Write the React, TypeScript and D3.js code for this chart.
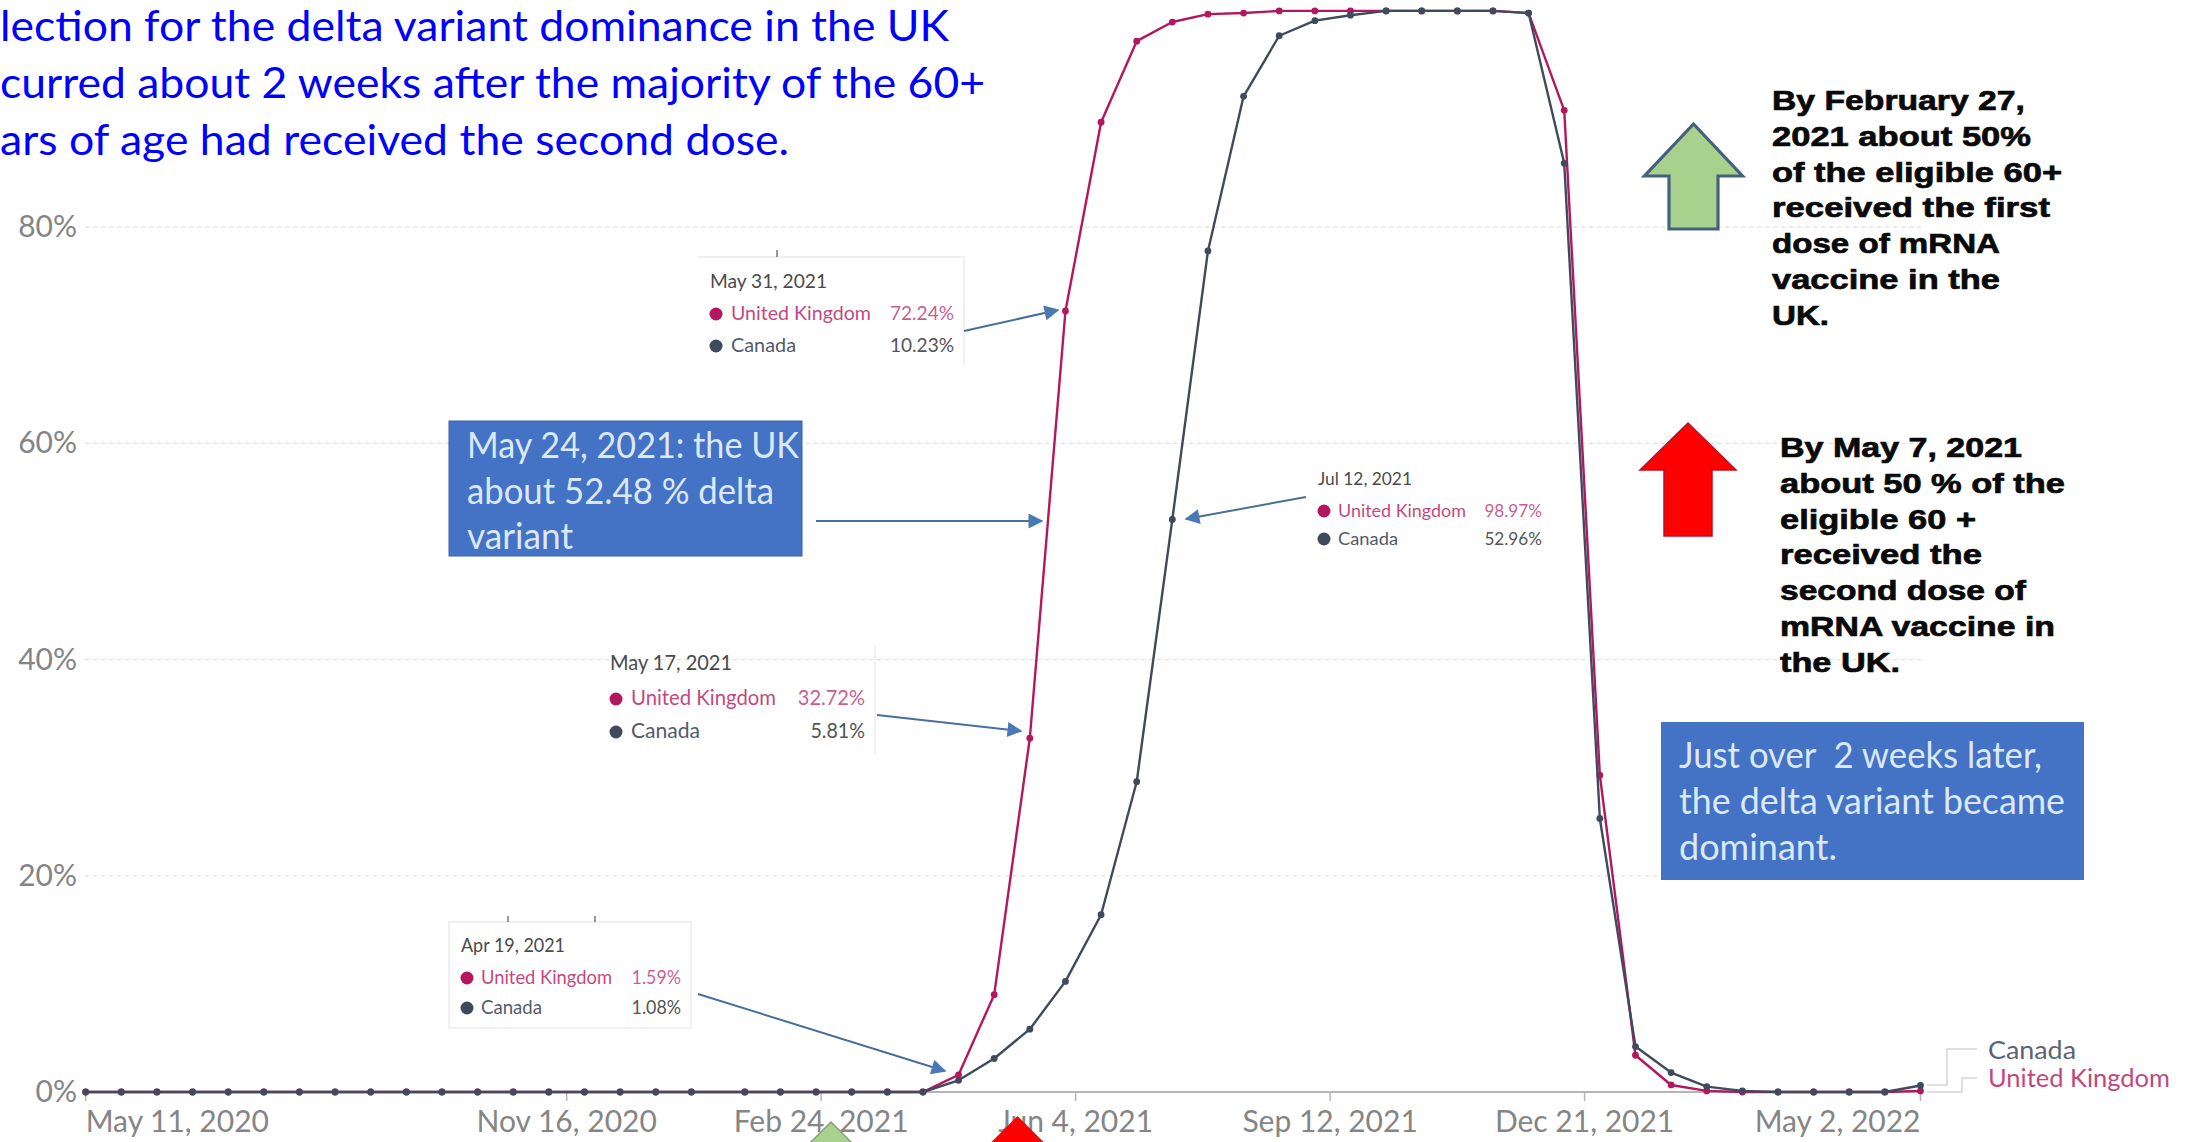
import React from "react";
import * as d3 from "d3";

// Share of sequenced cases that were the delta variant, fortnightly readings
const sampleDates = [
  "2020-05-11", "2020-05-25", "2020-06-08", "2020-06-22", "2020-07-06", "2020-07-20", "2020-08-03", "2020-08-17",
  "2020-08-31", "2020-09-14", "2020-09-28", "2020-10-12", "2020-10-26", "2020-11-09", "2020-11-23", "2020-12-07",
  "2020-12-21", "2021-01-04", "2021-01-25", "2021-02-08", "2021-02-22", "2021-03-08", "2021-03-22", "2021-04-05",
  "2021-04-19", "2021-05-03", "2021-05-17", "2021-05-31", "2021-06-14", "2021-06-28", "2021-07-12", "2021-07-26",
  "2021-08-09", "2021-08-23", "2021-09-06", "2021-09-20", "2021-10-04", "2021-10-18", "2021-11-01", "2021-11-15",
  "2021-11-29", "2021-12-13", "2021-12-27", "2022-01-10", "2022-01-24", "2022-02-07", "2022-02-21", "2022-03-07",
  "2022-03-21", "2022-04-04", "2022-04-18", "2022-05-02",
];
const ukShare = [
  0, 0, 0, 0, 0, 0, 0, 0, 0, 0, 0, 0, 0, 0, 0, 0, 0, 0, 0, 0, 0, 0, 0, 0,
  1.59, 9.0, 32.72, 72.24, 89.7, 97.2, 98.97, 99.7, 99.8, 100, 100, 100, 100, 100, 100, 100, 99.8, 90.8, 29.3,
  3.4, 0.65, 0.1, 0, 0, 0, 0, 0, 0.1,
];
const canadaShare = [
  0, 0, 0, 0, 0, 0, 0, 0, 0, 0, 0, 0, 0, 0, 0, 0, 0, 0, 0, 0, 0, 0, 0, 0,
  1.08, 3.1, 5.81, 10.23, 16.4, 28.7, 52.96, 77.8, 92.1, 97.7, 99.1, 99.6, 100, 100, 100, 100, 99.8, 85.9, 25.3,
  4.2, 1.8, 0.5, 0.1, 0, 0, 0, 0, 0.6,
];
const xTickDates = ["2020-05-11", "2020-11-16", "2021-02-24", "2021-06-04", "2021-09-12", "2021-12-21", "2022-05-02"];
const yTicks = [0, 20, 40, 60, 80];

const UK = "#b5175f";
const CANADA = "#3f4a5c";
const GREY = "#858585";
const ARROW = "#4a6d9c";
const SANS = "Lato, sans-serif";

const parseDay = d3.utcParse("%Y-%m-%d");
const formatDay = d3.utcFormat("%b %-d, %Y");
const x = d3.scaleUtc().domain([parseDay("2020-05-11"), parseDay("2022-05-02")]).range([85.7, 1920.5]);
const y = d3.scaleLinear().domain([0, 100]).range([1092, 10.9]);
const line = d3.line<number>().x((_, i) => x(parseDay(sampleDates[i]))).y((v) => y(v));

const headline = [
  { text: "lection for the delta variant dominance in the UK", base: 41, width: 949 },
  { text: "curred about 2 weeks after the majority of the 60+", base: 98, width: 985 },
  { text: "ars of age had received the second dose.", base: 155, width: 789 },
];

const firstDoseNote = [
  { text: "By February 27,", width: 253 },
  { text: "2021 about 50%", width: 259 },
  { text: "of the eligible 60+", width: 290 },
  { text: "received the first", width: 278 },
  { text: "dose of mRNA", width: 228 },
  { text: "vaccine in the", width: 228 },
  { text: "UK.", width: 57 },
];
const secondDoseNote = [
  { text: "By May 7, 2021", width: 242 },
  { text: "about 50 % of the", width: 285 },
  { text: "eligible 60 +", width: 196 },
  { text: "received the", width: 202 },
  { text: "second dose of", width: 246 },
  { text: "mRNA vaccine in", width: 275 },
  { text: "the UK.", width: 120 },
];

const tooltips = [
  { date: "Apr 19, 2021", uk: "1.59%", ca: "1.08%", left: 461, right: 681, top: 952, nameWidth: 131, caWidth: 61, font: 19, gap: 30, dateW: 104,
    edges: "M449,922H691V1028H449Z" },
  { date: "May 17, 2021", uk: "32.72%", ca: "5.81%", left: 610, right: 865, top: 670, nameWidth: 145, caWidth: 69, font: 21, gap: 33, dateW: 122,
    edges: "M875,645V754" },
  { date: "May 31, 2021", uk: "72.24%", ca: "10.23%", left: 710, right: 954, top: 288, nameWidth: 140, caWidth: 65, font: 20, gap: 32, dateW: 117,
    edges: "M698,257H964V365" },
  { date: "Jul 12, 2021", uk: "98.97%", ca: "52.96%", left: 1318, right: 1542, top: 485, nameWidth: 128, caWidth: 60, font: 18, gap: 28, dateW: 94,
    edges: "" },
];

const pointers = [
  [964, 331, 1058, 310],
  [816, 521, 1042, 521],
  [877, 715, 1021, 731],
  [1306, 497, 1186, 519],
  [698, 994, 945, 1071],
];

// Block arrow outline: tip on top, wings, then shaft down to the base
function blockArrow(cx: number, tip: number, wing: number, wingY: number, shaft: number, base: number) {
  return `M${cx},${tip}L${cx + wing},${wingY}L${cx + shaft},${wingY}L${cx + shaft},${base}L${cx - shaft},${base}L${cx - shaft},${wingY}L${cx - wing},${wingY}Z`;
}

// Percentages are set narrow: width follows the number of characters
function percentWidth(label: string, font: number) {
  return font * (label.length > 5 ? 3.2 : 2.6);
}

function Tooltip({ t }: { t: (typeof tooltips)[number] }) {
  const nameX = t.left + (t.font > 19 ? 21 : 20);
  const dotX = t.left + 6;
  const ukBase = t.top + 31 + (t.font > 20 ? 4 : 1);
  const caBase = ukBase + t.gap;
  return (
    <g fontFamily={SANS} fontSize={t.font}>
      <text x={t.left} y={t.top} fill="#4a4a4a" textLength={t.dateW} lengthAdjust="spacingAndGlyphs">{t.date}</text>
      <circle cx={dotX} cy={ukBase - 6} r={6.5} fill={UK} />
      <circle cx={dotX} cy={caBase - 6} r={6.5} fill={CANADA} />
      <text x={nameX} y={ukBase} fill={UK} textLength={t.nameWidth} lengthAdjust="spacingAndGlyphs" opacity={0.8}>United Kingdom</text>
      <text x={nameX} y={caBase} fill={CANADA} textLength={t.caWidth} lengthAdjust="spacingAndGlyphs" opacity={0.9}>Canada</text>
      <text x={t.right - percentWidth(t.uk, t.font)} y={ukBase} fill={UK} textLength={percentWidth(t.uk, t.font)} lengthAdjust="spacingAndGlyphs" opacity={0.7}>{t.uk}</text>
      <text x={t.right - percentWidth(t.ca, t.font)} y={caBase} fill="#555" textLength={percentWidth(t.ca, t.font)} lengthAdjust="spacingAndGlyphs">{t.ca}</text>
    </g>
  );
}

export default function App() {
  const gridLeft = 85;
  const gridRight = 1922;
  return (
    <svg width={2190} height={1142} style={{ position: "absolute", left: 0, top: 0, background: "#fff" }}>
      <defs>
        <marker id="head" viewBox="0 0 10 10" refX="9" refY="5" markerWidth="17" markerHeight="15" markerUnits="userSpaceOnUse" orient="auto">
          <path d="M0,0L10,5L0,10Z" fill="#4a7ab5" />
        </marker>
      </defs>

      {/* horizontal grid and value labels */}
      {yTicks.map((t) => (
        <g key={t}>
          {t > 0 && <line x1={gridLeft} x2={gridRight} y1={y(t)} y2={y(t)} stroke="#e0e0e0" strokeWidth={1.2} strokeDasharray="4 4" />}
          <text x={77} y={y(t) + 10} textAnchor="end" fontFamily={SANS} fontSize={30} fill={GREY}>{t}%</text>
        </g>
      ))}

      {/* time axis */}
      <line x1={gridLeft} x2={gridRight} y1={y(0)} y2={y(0)} stroke="#b5b5b5" strokeWidth={2} />
      {xTickDates.map((d, i) => {
        const px = x(parseDay(d));
        const anchor = i === 0 ? "start" : i === xTickDates.length - 1 ? "end" : "middle";
        return (
          <g key={d}>
            <line x1={px} x2={px} y1={y(0)} y2={y(0) + 9} stroke="#b5b5b5" strokeWidth={1.5} />
            <text x={px} y={1132} textAnchor={anchor} fontFamily={SANS} fontSize={30} fill={GREY}>{formatDay(parseDay(d))}</text>
          </g>
        );
      })}

      {/* country series */}
      {[{ values: ukShare, color: UK }, { values: canadaShare, color: CANADA }].map((s) => (
        <g key={s.color}>
          <path d={line(s.values) as string} fill="none" stroke={s.color} strokeWidth={2.4} strokeLinejoin="round" />
          {s.values.map((v, i) => (
            <circle key={i} cx={x(parseDay(sampleDates[i]))} cy={y(v)} r={3.4} fill={s.color} />
          ))}
        </g>
      ))}

      {/* end-of-line labels */}
      <path d="M1927,1085H1947V1049H1977" fill="none" stroke="#d5d5d5" strokeWidth={1.5} />
      <path d="M1927,1092H1962V1078H1977" fill="none" stroke="#d5d5d5" strokeWidth={1.5} />
      <text x={1988} y={1059} fontFamily={SANS} fontSize={25} fill="#5b6472" textLength={88} lengthAdjust="spacingAndGlyphs">Canada</text>
      <text x={1988} y={1087} fontFamily={SANS} fontSize={25} fill={UK} textLength={182} lengthAdjust="spacingAndGlyphs" opacity={0.8}>United Kingdom</text>

      {/* hover cards */}
      {tooltips.map((t) => (
        <g key={t.date}>
          {t.edges && <path d={t.edges} fill="none" stroke="#ececec" strokeWidth={1.5} />}
          <Tooltip t={t} />
        </g>
      ))}
      <path d="M777,250V257M508,916V922M595,916V922" stroke="#777" strokeWidth={1.5} />

      {/* pointers from the cards to the curve */}
      {pointers.map((p, i) => (
        <line key={i} x1={p[0]} y1={p[1]} x2={p[2]} y2={p[3]} stroke={ARROW} strokeWidth={2} markerEnd="url(#head)" />
      ))}

      {/* headline, cut off at the left edge */}
      {headline.map((l) => (
        <text key={l.base} x={0} y={l.base} fontFamily={SANS} fontSize={43} fill="#0000ff" textLength={l.width} lengthAdjust="spacingAndGlyphs">{l.text}</text>
      ))}

      {/* blue call-out boxes */}
      <rect x={449} y={421} width={353} height={135} fill="#4472c4" stroke="#3a62a8" strokeWidth={1} />
      <g fontFamily={SANS} fontSize={36} fill="#dbe8f5">
        <text x={467} y={458} textLength={332} lengthAdjust="spacingAndGlyphs">May 24, 2021: the UK</text>
        <text x={467} y={504} textLength={307} lengthAdjust="spacingAndGlyphs">about 52.48 % delta</text>
        <text x={467} y={549} textLength={106} lengthAdjust="spacingAndGlyphs">variant</text>
      </g>
      <rect x={1661} y={722} width={423} height={158} fill="#4472c4" />
      <g fontFamily={SANS} fontSize={36} fill="#dbe8f5">
        <text x={1679} y={768} textLength={363} lengthAdjust="spacingAndGlyphs" xmlSpace="preserve">Just over  2 weeks later,</text>
        <text x={1679} y={814} textLength={386} lengthAdjust="spacingAndGlyphs">the delta variant became</text>
        <text x={1679} y={860} textLength={158} lengthAdjust="spacingAndGlyphs">dominant.</text>
      </g>

      {/* vaccination milestones */}
      <path d={blockArrow(1693.5, 124, 49, 176, 24.5, 229)} fill="#a9d18e" stroke="#44617f" strokeWidth={3.2} strokeLinejoin="miter" />
      <path d={blockArrow(1688, 423, 48, 470, 24, 536)} fill="#ff0000" stroke="#b5122a" strokeWidth={1.5} />
      <path d={blockArrow(831, 1122, 46, 1168, 24, 1200)} fill="#a9d18e" stroke="#8aa07a" strokeWidth={1.5} />
      <path d={blockArrow(1017.5, 1116, 48, 1164, 24, 1200)} fill="#ff0000" />

      <g fontFamily="'Liberation Sans', Arial, sans-serif" fontWeight={700} fontSize={28} fill="#0a0a0a" stroke="#0a0a0a" strokeWidth={0.7}>
        {firstDoseNote.map((l, i) => (
          <text key={l.text} x={1772} y={110 + i * 35.8} textLength={l.width} lengthAdjust="spacingAndGlyphs">{l.text}</text>
        ))}
        {secondDoseNote.map((l, i) => (
          <text key={l.text} x={1780} y={457 + i * 35.8} textLength={l.width} lengthAdjust="spacingAndGlyphs">{l.text}</text>
        ))}
      </g>
    </svg>
  );
}
